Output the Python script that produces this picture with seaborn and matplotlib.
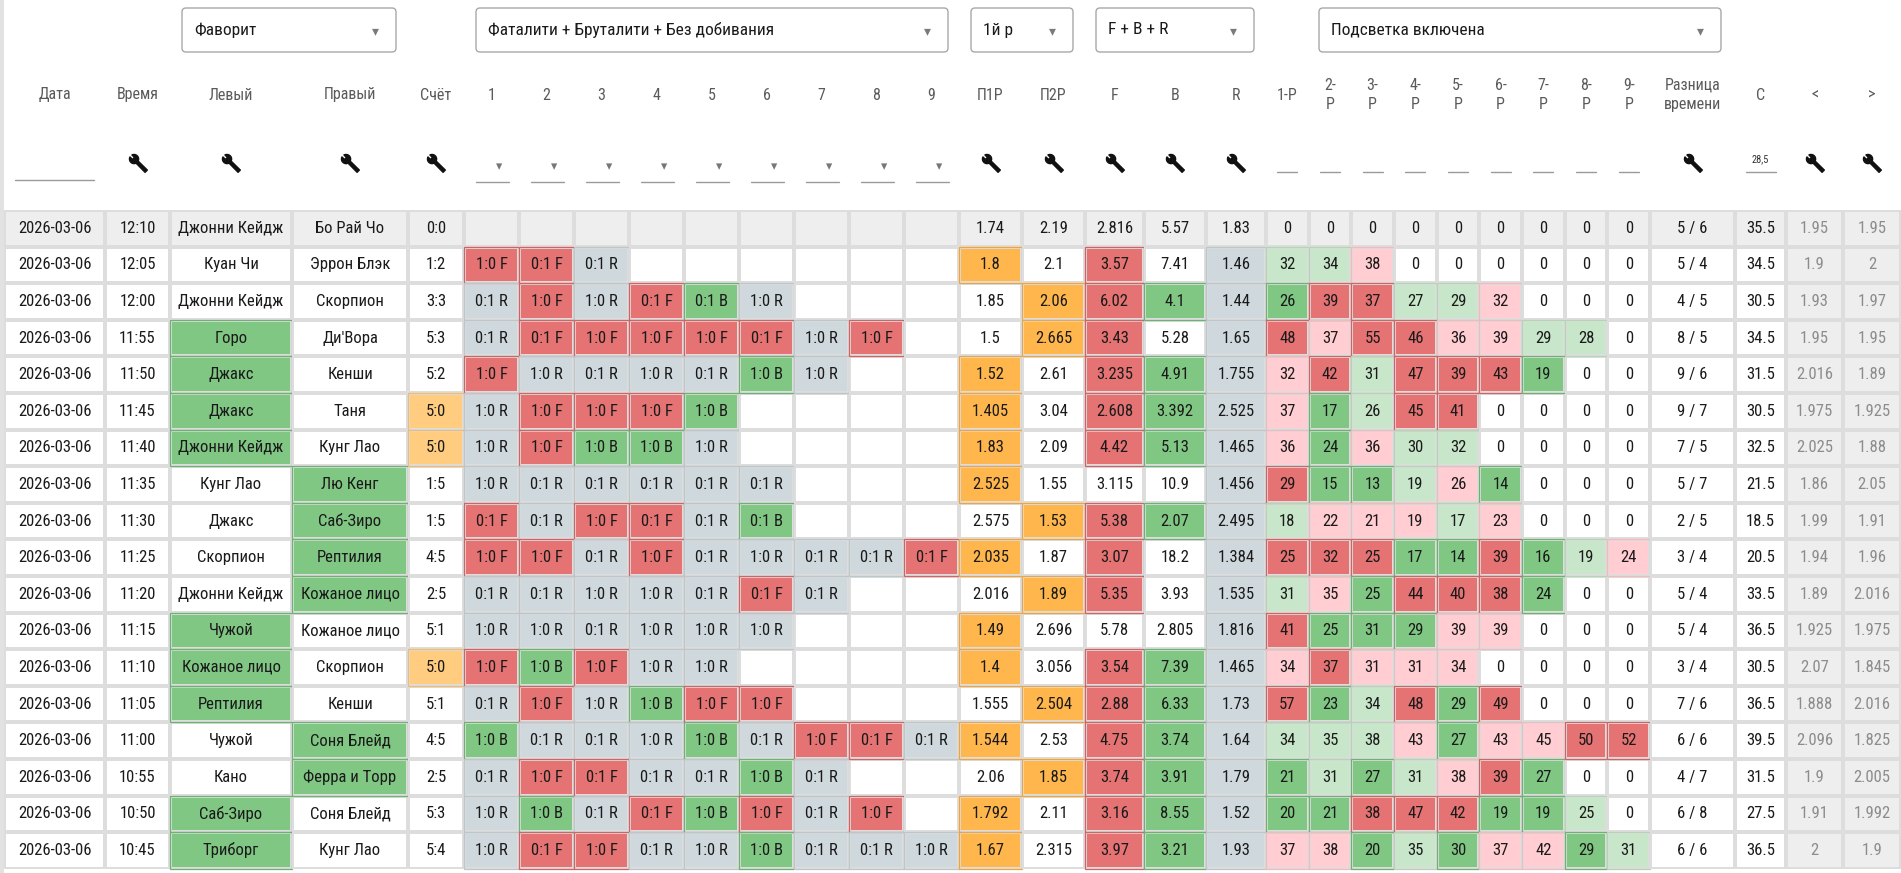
import numpy as np
import matplotlib
matplotlib.use('Agg')
import matplotlib.pyplot as plt
import seaborn as sns
from matplotlib import font_manager
from matplotlib.colors import ListedColormap
from matplotlib.patches import Rectangle, FancyBboxPatch
from matplotlib.path import Path

# данные таблицы
match_date = '2026-03-06'
times = ['12:10', '12:05', '12:00', '11:55', '11:50', '11:45', '11:40', '11:35', '11:30',
         '11:25', '11:20', '11:15', '11:10', '11:05', '11:00', '10:55', '10:50', '10:45']
left = ['Джонни Кейдж', 'Куан Чи', 'Джонни Кейдж', 'Горо', 'Джакс', 'Джакс', 'Джонни Кейдж',
        'Кунг Лао', 'Джакс', 'Скорпион', 'Джонни Кейдж', 'Чужой', 'Кожаное лицо', 'Рептилия',
        'Чужой', 'Кано', 'Саб-Зиро', 'Триборг']
right = ['Бо Рай Чо', 'Эррон Блэк', 'Скорпион', "Ди'Вора", 'Кенши', 'Таня', 'Кунг Лао', 'Лю Кенг',
         'Саб-Зиро', 'Рептилия', 'Кожаное лицо', 'Кожаное лицо', 'Скорпион', 'Кенши', 'Соня Блейд',
         'Ферра и Торр', 'Соня Блейд', 'Кунг Лао']
fav_side = ['', '', '', 'L', 'L', 'L', 'L', 'R', 'R', 'R', 'R', 'L', 'L', 'L', 'R', 'R', 'L', 'L']
scores = ['0:0', '1:2', '3:3', '5:3', '5:2', '5:0', '5:0', '1:5', '1:5', '4:5', '2:5', '5:1',
          '5:0', '5:1', '4:5', '2:5', '5:3', '5:4']
rounds = [
    [],
    ['1:0 F', '0:1 F', '0:1 R'],
    ['0:1 R', '1:0 F', '1:0 R', '0:1 F', '0:1 B', '1:0 R'],
    ['0:1 R', '0:1 F', '1:0 F', '1:0 F', '1:0 F', '0:1 F', '1:0 R', '1:0 F'],
    ['1:0 F', '1:0 R', '0:1 R', '1:0 R', '0:1 R', '1:0 B', '1:0 R'],
    ['1:0 R', '1:0 F', '1:0 F', '1:0 F', '1:0 B'],
    ['1:0 R', '1:0 F', '1:0 B', '1:0 B', '1:0 R'],
    ['1:0 R', '0:1 R', '0:1 R', '0:1 R', '0:1 R', '0:1 R'],
    ['0:1 F', '0:1 R', '1:0 F', '0:1 F', '0:1 R', '0:1 B'],
    ['1:0 F', '1:0 F', '0:1 R', '1:0 F', '0:1 R', '1:0 R', '0:1 R', '0:1 R', '0:1 F'],
    ['0:1 R', '0:1 R', '1:0 R', '1:0 R', '0:1 R', '0:1 F', '0:1 R'],
    ['1:0 R', '1:0 R', '0:1 R', '1:0 R', '1:0 R', '1:0 R'],
    ['1:0 F', '1:0 B', '1:0 F', '1:0 R', '1:0 R'],
    ['0:1 R', '1:0 F', '1:0 R', '1:0 B', '1:0 F', '1:0 F'],
    ['1:0 B', '0:1 R', '0:1 R', '1:0 R', '1:0 B', '0:1 R', '1:0 F', '0:1 F', '0:1 R'],
    ['0:1 R', '1:0 F', '0:1 F', '0:1 R', '0:1 R', '1:0 B', '0:1 R'],
    ['1:0 R', '1:0 B', '0:1 R', '0:1 F', '1:0 B', '1:0 F', '0:1 R', '1:0 F'],
    ['1:0 R', '0:1 F', '1:0 F', '0:1 R', '1:0 R', '1:0 B', '0:1 R', '0:1 R', '1:0 R'],
]
p1 = [1.74, 1.8, 1.85, 1.5, 1.52, 1.405, 1.83, 2.525, 2.575, 2.035, 2.016, 1.49, 1.4, 1.555,
      1.544, 2.06, 1.792, 1.67]
p2 = [2.19, 2.1, 2.06, 2.665, 2.61, 3.04, 2.09, 1.55, 1.53, 1.87, 1.89, 2.696, 3.056, 2.504,
      2.53, 1.85, 2.11, 2.315]
f_odds = [2.816, 3.57, 6.02, 3.43, 3.235, 2.608, 4.42, 3.115, 5.38, 3.07, 5.35, 5.78, 3.54, 2.88,
          4.75, 3.74, 3.16, 3.97]
b_odds = [5.57, 7.41, 4.1, 5.28, 4.91, 3.392, 5.13, 10.9, 2.07, 18.2, 3.93, 2.805, 7.39, 6.33,
          3.74, 3.91, 8.55, 3.21]
r_odds = [1.83, 1.46, 1.44, 1.65, 1.755, 2.525, 1.465, 1.456, 2.495, 1.384, 1.535, 1.816, 1.465,
          1.73, 1.64, 1.79, 1.52, 1.93]
f_hl = 'hrrrrrrwrrrwrrrrrr'
b_hl = 'hwgwgggwgwwwgggggg'
round_stats = [
    [0, 0, 0, 0, 0, 0, 0, 0, 0],
    [32, 34, 38, 0, 0, 0, 0, 0, 0],
    [26, 39, 37, 27, 29, 32, 0, 0, 0],
    [48, 37, 55, 46, 36, 39, 29, 28, 0],
    [32, 42, 31, 47, 39, 43, 19, 0, 0],
    [37, 17, 26, 45, 41, 0, 0, 0, 0],
    [36, 24, 36, 30, 32, 0, 0, 0, 0],
    [29, 15, 13, 19, 26, 14, 0, 0, 0],
    [18, 22, 21, 19, 17, 23, 0, 0, 0],
    [25, 32, 25, 17, 14, 39, 16, 19, 24],
    [31, 35, 25, 44, 40, 38, 24, 0, 0],
    [41, 25, 31, 29, 39, 39, 0, 0, 0],
    [34, 37, 31, 31, 34, 0, 0, 0, 0],
    [57, 23, 34, 48, 29, 49, 0, 0, 0],
    [34, 35, 38, 43, 27, 43, 45, 50, 52],
    [21, 31, 27, 31, 38, 39, 27, 0, 0],
    [20, 21, 38, 47, 42, 19, 19, 25, 0],
    [37, 38, 20, 35, 30, 37, 42, 29, 31],
]
round_hl = ['hhhhhhhhh', 'llpwwwwww', 'grrllpwww', 'rprrppllw', 'prlrrrgww', 'pglrrwwww',
            'pgpllwwww', 'rgglpgwww', 'lppplpwww', 'rrrggrglp', 'lpgrrrgww', 'rgggppwww',
            'prpppwwww', 'rglrgrwww', 'lllpgpprr', 'glglprgww', 'ggrrrgglw', 'ppglgppgl']
time_diff = ['5 / 6', '5 / 4', '4 / 5', '8 / 5', '9 / 6', '9 / 7', '7 / 5', '5 / 7', '2 / 5',
             '3 / 4', '5 / 4', '5 / 4', '3 / 4', '7 / 6', '6 / 6', '4 / 7', '6 / 8', '6 / 6']
c_vals = [35.5, 34.5, 30.5, 34.5, 31.5, 30.5, 32.5, 21.5, 18.5, 20.5, 33.5, 36.5, 30.5, 36.5,
          39.5, 31.5, 27.5, 36.5]
lt_vals = [1.95, 1.9, 1.93, 1.95, 2.016, 1.975, 2.025, 1.86, 1.99, 1.94, 1.89, 1.925, 2.07,
           1.888, 2.096, 1.9, 1.91, 2]
gt_vals = [1.95, 2, 1.97, 1.95, 1.89, 1.925, 1.88, 2.05, 1.91, 1.96, 2.016, 1.975, 1.845,
           2.016, 1.825, 2.005, 1.992, 1.9]
live_row = 0

dropdowns = ['Фаворит', 'Фаталити + Бруталити + Без добивания', '1й р', 'F + B + R',
             'Подсветка включена']

# цвета
order = 'whrpglsoy'
pal = ['#ffffff', '#eeeeee', '#e57373', '#ffcdd2', '#81c784', '#c8e6c9', '#cfd8dc',
       '#ffb74d', '#ffcc80']
edge_pal = {'r': '#d46262', 'p': '#f2b9bf', 'g': '#6cb270', 'l': '#b2d6b4', 's': '#bcc6cb',
            'o': '#efa53c', 'y': '#f0bb6c'}
cmap = ListedColormap(pal)
fin_color = {'F': 'r', 'R': 's', 'B': 'g'}

sns.set_style('white')

# узкий шрифт, если есть
fonts = font_manager.fontManager.ttflist
names = {f.name for f in fonts}
if 'Liberation Sans Narrow' in names:
    plt.rcParams['font.family'] = ['Liberation Sans Narrow', 'DejaVu Sans']
    fs = 12
elif 'Roboto Condensed' in names:
    plt.rcParams['font.family'] = ['Roboto Condensed', 'DejaVu Sans']
    fs = 12
elif any(f.name == 'DejaVu Sans' and f.stretch == 'condensed' for f in fonts):
    plt.rcParams['font.family'] = ['DejaVu Sans']
    plt.rcParams['font.stretch'] = 'condensed'
    fs = 10.5
else:
    plt.rcParams['font.family'] = ['Roboto', 'DejaVu Sans']
    fs = 11.5

W, H = 1901, 873
TOP, RH = 210, 36.6
NR = len(times)
fmt = lambda v: f'{v:g}'
base = ['h' if i == live_row else 'w' for i in range(NR)]

# колонки: заголовок, ширина, тексты, подсветка, фильтр
cols = []
cols.append(('Дата', 101, [match_date] * NR, base, 'date'))
cols.append(('Время', 65, times, base, 'wrench'))
cols.append(('Левый', 122, left, ['g' if s == 'L' else b for s, b in zip(fav_side, base)], 'wrench'))
cols.append(('Правый', 116, right, ['g' if s == 'R' else b for s, b in zip(fav_side, base)], 'wrench'))
cols.append(('Счёт', 56, scores, ['y' if s in ('5:0', '0:5') else b for s, b in zip(scores, base)], 'wrench'))
for k in range(9):
    txt = [r[k] if k < len(r) else '' for r in rounds]
    hl = [fin_color[t[-1]] if t else b for t, b in zip(txt, base)]
    cols.append((str(k + 1), 55, txt, hl, 'select'))
cols.append(('П1Р', 63, [fmt(v) for v in p1],
             ['o' if r and r[0].startswith('1:0') else b for r, b in zip(rounds, base)], 'wrench'))
cols.append(('П2Р', 63, [fmt(v) for v in p2],
             ['o' if r and r[0].startswith('0:1') else b for r, b in zip(rounds, base)], 'wrench'))
cols.append(('F', 59, [fmt(v) for v in f_odds], list(f_hl), 'wrench'))
cols.append(('B', 62, [fmt(v) for v in b_odds], list(b_hl), 'wrench'))
cols.append(('R', 60, [fmt(v) for v in r_odds], ['s' if b == 'w' else b for b in base], 'wrench'))
for k in range(9):
    head = '1-Р' if k == 0 else f'{k + 1}-\nР'
    cols.append((head, 42.67, [str(r[k]) for r in round_stats], [h[k] for h in round_hl], 'line'))
cols.append(('Разница\nвремени', 85, time_diff, base, 'wrench'))
cols.append(('С', 51, [fmt(v) for v in c_vals], base, 'c'))
cols.append(('<', 57, [fmt(v) for v in lt_vals], ['h'] * NR, 'wrench'))
cols.append(('>', 58, [fmt(v) for v in gt_vals], ['h'] * NR, 'wrench'))

fig = plt.figure(figsize=(W / 100, H / 100), dpi=100)
fig.patch.set_facecolor('white')
bg = fig.add_axes([0, 0, 1, 1])
bg.set_xlim(0, W)
bg.set_ylim(H, 0)
bg.axis('off')
bg.add_patch(Rectangle((0, 0), 4, H, fc='#e2e2e2', ec='none'))

# гаечный ключ
ang = np.radians(np.linspace(-71, 72.5, 14))
pts = [(0.4 * np.cos(a), 0.55 + 0.4 * np.sin(a)) for a in ang]
pts += [(0.12, 0.62), (-0.12, 0.62)]
ang2 = np.radians(np.linspace(107.5, 251, 14))
pts += [(0.4 * np.cos(a), 0.55 + 0.4 * np.sin(a)) for a in ang2]
pts += [(-0.14, -0.95), (0.14, -0.95)]
pts = np.array(pts)
rot = np.radians(45)
rm = np.array([[np.cos(rot), -np.sin(rot)], [np.sin(rot), np.cos(rot)]])
pts = pts @ rm.T
wrench = Path(np.vstack([pts, pts[:1]]), closed=True)

# выпадающие списки
boxes = [(182, 396), (476, 948), (971, 1073), (1096, 1254), (1319, 1721)]
for (x0, x1), label in zip(boxes, dropdowns):
    bg.add_patch(FancyBboxPatch((x0, 8), x1 - x0, 44, boxstyle='round,pad=0,rounding_size=4',
                                fc='white', ec='#a8a8a8', lw=1))
    bg.text(x0 + 12, 30, label, ha='left', va='center', fontsize=fs + 0.5, color='#1a1a1a')
    bg.text(x1 - 21, 31, '▾', ha='center', va='center', fontsize=10, color='#7a7a7a',
            family=['DejaVu Sans'], stretch='normal')

x = 4
for head, w, txt, hl, filt in cols:
    cx = x + w / 2
    bg.text(cx, 95, head, ha='center', va='center', fontsize=fs - 0.5, color='#5a5a5a',
            linespacing=1.35)
    if filt == 'date':
        bg.plot([x + 11, x + 90], [180, 180], color='#9a9a9a', lw=1)
    elif filt == 'wrench':
        bg.plot([cx], [163], marker=wrench, markersize=13, color='#111111', ls='none')
    elif filt == 'select':
        bg.text(cx + 8, 167, '▾', ha='center', va='center', fontsize=9, color='#777777',
                family=['DejaVu Sans'], stretch='normal')
        bg.plot([cx - 16, cx + 17], [182, 182], color='#9a9a9a', lw=1)
    elif filt == 'line':
        bg.plot([cx - 10, cx + 10], [172, 172], color='#9a9a9a', lw=1)
    elif filt == 'c':
        bg.text(cx, 159, '28,5', ha='center', va='center', fontsize=7.5, color='#333333')
        bg.plot([cx - 15, cx + 15], [172, 172], color='#9a9a9a', lw=1)

    ax = fig.add_axes([x / W, 1 - (TOP + NR * RH) / H, w / W, NR * RH / H])
    vals = np.array([order.index(c) for c in hl]).reshape(-1, 1)
    annot = np.array(txt, dtype=object).reshape(-1, 1)
    tc = '#8c8c8c' if head in ('<', '>') else '#1a1a1a'
    sns.heatmap(vals, ax=ax, cmap=cmap, vmin=-0.5, vmax=len(order) - 0.5, cbar=False,
                annot=annot, fmt='', annot_kws={'fontsize': fs, 'color': tc},
                linewidths=1.5, linecolor='#dddddd', xticklabels=False, yticklabels=False)
    for i, c in enumerate(hl):
        if c in edge_pal:
            ax.add_patch(Rectangle((0.0, i), 1, 1, fill=False, ec=edge_pal[c], lw=0.9,
                                   clip_on=False, zorder=3))
    x += w

fig.savefig('out.png', dpi=100, facecolor='white')
